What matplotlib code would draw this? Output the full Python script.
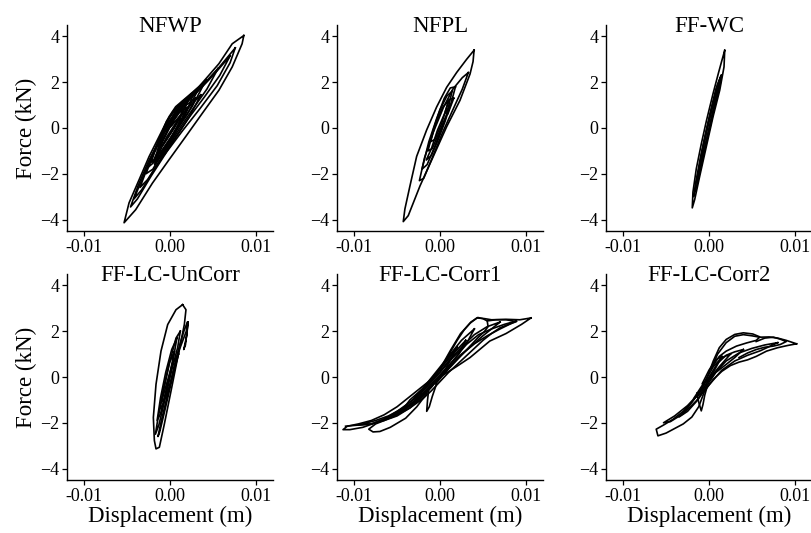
import numpy as np
import matplotlib
matplotlib.use('Agg')
import matplotlib.pyplot as plt
from matplotlib.ticker import FormatStrFormatter

plt.rcParams['font.family'] = ['Liberation Serif', 'DejaVu Serif']

# hysteresis loops: (displacement in mm, force in kN)
nfwp_loops = [
    [(8.6, 4.04), (7.25, 3.68), (5.7, 2.81), (3.37, 1.80), (0.66, 0.93), (-0.12, 0.49), (-1.28, -0.38),
     (-2.44, -1.25), (-3.6, -2.26), (-4.77, -3.27), (-5.35, -4.14), (-4.0, -3.57), (-2.05, -2.41),
     (-0.12, -1.39), (1.82, -0.38), (3.76, 0.64), (5.7, 1.65), (7.25, 2.67), (8.4, 3.68), (8.6, 4.04)],
    [(7.6, 3.5), (6.5, 3.0), (4.5, 2.1), (2.5, 1.35), (0.5, 0.55), (-1.0, -0.35), (-2.5, -1.45), (-3.7, -2.5),
     (-4.6, -3.45), (-3.8, -3.1), (-2.2, -2.1), (-0.4, -1.05), (1.5, -0.1), (3.5, 0.85), (5.5, 1.85),
     (7.0, 2.85), (7.6, 3.5)],
    [(7.0, 3.15), (5.5, 2.5), (3.5, 1.7), (1.5, 0.95), (-0.3, 0.05), (-1.8, -1.0), (-3.0, -2.0), (-4.2, -3.1),
     (-3.3, -2.7), (-1.8, -1.8), (0.0, -0.75), (2.0, 0.35), (4.0, 1.35), (5.8, 2.3), (7.0, 3.15)],
    [(5.6, 2.6), (4.0, 1.95), (2.2, 1.3), (0.5, 0.55), (-1.0, -0.4), (-2.4, -1.5), (-3.5, -2.6), (-2.6, -2.25),
     (-1.0, -1.3), (0.8, -0.2), (2.6, 0.8), (4.3, 1.7), (5.6, 2.6)],
    [(4.2, 2.1), (2.8, 1.6), (1.2, 0.95), (-0.3, 0.2), (-1.6, -0.8), (-2.8, -2.0), (-2.0, -1.8), (-0.6, -0.9),
     (1.0, 0.05), (2.6, 0.95), (4.2, 2.1)],
    [(3.4, 1.75), (2.0, 1.3), (0.6, 0.7), (-0.8, -0.2), (-2.0, -1.2), (-2.5, -1.7), (-1.4, -1.35), (0.0, -0.5),
     (1.6, 0.5), (3.4, 1.75)],
    [(2.8, 1.55), (1.4, 1.15), (0.0, 0.5), (-1.3, -0.5), (-2.2, -1.5), (-1.2, -1.2), (0.3, -0.3), (1.8, 0.6),
     (2.8, 1.55)],
    [(2.2, 1.3), (1.0, 1.0), (-0.4, 0.3), (-1.6, -0.8), (-0.8, -0.75), (0.5, 0.0), (2.2, 1.3)],
    [(3.0, 1.3), (1.5, 0.9), (0.2, 0.2), (-1.0, -0.7), (-1.8, -1.6), (-0.8, -1.1), (0.6, -0.2), (2.0, 0.6),
     (3.0, 1.3)],
    [(1.8, 0.9), (0.6, 0.6), (-0.6, -0.1), (-1.5, -1.0), (-0.4, -0.5), (0.8, 0.2), (1.8, 0.9)],
    [(2.5, 1.5), (1.5, 1.15), (0.3, 0.7), (-0.6, 0.1), (-1.0, -0.3), (0.2, 0.1), (1.5, 0.7), (2.5, 1.5)],
    [(2.0, 0.9), (1.0, 0.65), (0.0, 0.1), (-1.0, -0.6), (-2.0, -1.5), (-1.0, -1.0), (0.2, -0.35), (1.2, 0.3),
     (2.0, 0.9)],
    [(1.2, 0.4), (0.2, 0.2), (-0.8, -0.45), (-1.6, -1.2), (-0.6, -0.95), (0.5, -0.3), (1.2, 0.4)],
    [(3.6, 1.45), (2.4, 1.0), (1.0, 0.4), (-0.4, -0.4), (-1.6, -1.35), (-0.6, -1.15), (0.8, -0.35),
     (2.2, 0.45), (3.6, 1.45)],
]

nfpl_loops = [
    [(3.97, 3.40), (3.1, 3.0), (1.95, 2.43), (0.78, 1.78), (-0.39, 0.92), (-1.56, -0.09), (-2.72, -1.24),
     (-3.5, -2.53), (-4.09, -3.54), (-4.28, -4.09), (-3.7, -3.83), (-2.33, -2.53), (-0.78, -1.24),
     (0.78, 0.06), (2.33, 1.21), (3.5, 2.36), (3.85, 2.9), (3.97, 3.40)],
    [(3.3, 2.42), (2.6, 2.2), (1.5, 1.7), (0.4, 0.9), (-0.8, -0.2), (-1.8, -1.3), (-2.4, -2.3), (-1.9, -2.2),
     (-0.9, -1.3), (0.3, -0.2), (1.5, 0.8), (2.6, 1.7), (3.3, 2.42)],
    [(1.8, 1.8), (1.2, 1.75), (0.5, 1.3), (-0.4, 0.4), (-1.3, -0.6), (-2.1, -1.8), (-1.5, -1.6), (-0.6, -0.8),
     (0.4, 0.2), (1.3, 1.1), (1.8, 1.8)],
    [(1.4, 1.6), (0.8, 1.4), (0.0, 0.8), (-0.8, -0.1), (-1.4, -1.0), (-0.9, -0.9), (-0.1, -0.2), (0.8, 0.6),
     (1.4, 1.6)],
    [(1.0, 1.2), (0.3, 0.9), (-0.5, 0.2), (-1.1, -0.6), (-0.6, -0.5), (0.2, 0.2), (1.0, 1.2)],
    [(1.6, 1.3), (1.1, 1.25), (0.6, 0.7), (0.9, 0.6), (1.6, 1.3)],
    [(1.2, 1.0), (0.5, 0.6), (-0.3, -0.1), (-1.0, -0.9), (-1.6, -1.4), (-1.0, -1.2), (-0.2, -0.5), (0.6, 0.3),
     (1.2, 1.0)],
]

ffwc_loops = [
    [(1.83, 3.39), (1.5, 2.95), (1.1, 2.4), (0.47, 1.5), (-0.31, 0.3), (-0.9, -0.7), (-1.48, -1.78),
     (-1.87, -2.8), (-1.95, -3.49), (-1.67, -3.13), (-1.09, -2.12), (-0.31, -0.81), (0.47, 0.49),
     (1.25, 1.65), (1.75, 2.67), (1.83, 3.39)],
    [(1.44, 2.3), (1.0, 1.9), (0.4, 1.0), (-0.3, -0.1), (-1.0, -1.3), (-1.6, -2.5), (-1.8, -3.0), (-1.4, -2.5),
     (-0.7, -1.3), (0.0, -0.1), (0.7, 1.0), (1.3, 1.9), (1.44, 2.3)],
    [(1.3, 2.2), (0.8, 1.7), (0.1, 0.6), (-0.6, -0.6), (-1.2, -1.8), (-1.5, -2.4), (-1.1, -1.9), (-0.4, -0.7),
     (0.3, 0.5), (1.0, 1.6), (1.3, 2.2)],
    [(1.2, 2.0), (0.6, 1.3), (-0.1, 0.2), (-0.8, -1.0), (-1.2, -1.9), (-0.9, -1.6), (-0.2, -0.4), (0.5, 0.7),
     (1.2, 2.0)],
    [(1.0, 1.6), (0.4, 0.9), (-0.3, -0.2), (-0.9, -1.3), (-0.6, -1.1), (0.1, 0.0), (0.7, 1.0), (1.0, 1.6)],
]

uncorr_loops = [
    [(1.47, 3.16), (0.7, 2.94), (-0.27, 2.29), (-1.05, 1.13), (-1.63, -0.32), (-1.94, -1.77), (-1.82, -2.78),
     (-1.63, -3.14), (-1.24, -3.07), (-0.66, -2.06), (0.12, -0.61), (0.89, 0.84), (1.67, 2.29),
     (1.86, 2.94), (1.47, 3.16)],
    [(2.05, 2.4), (1.7, 2.1), (1.2, 1.5), (0.5, 0.5), (-0.3, -0.8), (-1.0, -1.9), (-1.4, -2.6), (-1.2, -2.4),
     (-0.5, -1.3), (0.3, 0.0), (1.1, 1.2), (1.9, 2.0), (2.05, 2.4)],
    [(2.1, 2.4), (1.95, 1.8), (1.6, 1.2), (1.8, 1.4), (2.1, 2.4)],
    [(1.2, 2.0), (0.7, 1.7), (0.0, 0.7), (-0.7, -0.5), (-1.4, -1.8), (-1.7, -2.5), (-1.3, -2.1), (-0.6, -1.0),
     (0.2, 0.3), (0.9, 1.3), (1.2, 2.0)],
    [(0.8, 1.7), (0.2, 1.2), (-0.5, 0.2), (-1.1, -0.9), (-1.5, -1.9), (-1.1, -1.6), (-0.4, -0.5), (0.3, 0.6),
     (0.8, 1.7)],
    [(0.5, 1.1), (-0.1, 0.6), (-0.7, -0.4), (-1.2, -1.4), (-0.8, -1.2), (-0.2, -0.2), (0.5, 1.1)],
    [(1.0, 1.0), (0.3, 0.6), (-0.4, -0.3), (-1.0, -1.1), (-0.5, -0.9), (0.2, -0.1), (1.0, 1.0)],
]

corr1_loops = [
    [(10.6, 2.58), (9.3, 2.5), (7.7, 2.52), (6.0, 2.5), (5.2, 2.55), (4.3, 2.58), (3.5, 2.35), (2.4, 1.9),
     (1.2, 1.15), (0.3, 0.55), (-0.5, 0.05), (-2.0, -0.4), (-3.5, -0.85), (-5.0, -1.3), (-6.5, -1.65),
     (-8.0, -1.9), (-9.5, -2.05), (-10.8, -2.15), (-11.3, -2.3), (-10.5, -2.3), (-9.0, -2.2), (-7.5, -2.0),
     (-6.0, -1.75), (-4.5, -1.45), (-3.0, -1.05), (-1.5, -0.55), (0.0, 0.0), (1.9, 0.45), (3.5, 0.85),
     (5.8, 1.57), (7.7, 1.9), (9.5, 2.3), (10.6, 2.58)],
    [(0.0, 0.3), (1.0, 0.95), (2.0, 1.6), (2.8, 2.05), (3.6, 2.4), (4.4, 2.6), (5.0, 2.55), (5.5, 2.45),
     (6.5, 2.5), (7.7, 2.5), (8.9, 2.42), (8.0, 2.3), (7.0, 2.15), (6.0, 1.9), (5.0, 1.6), (4.0, 1.25),
     (3.0, 0.9), (2.0, 0.55), (1.0, 0.2), (0.0, -0.2), (-1.0, -0.6), (-2.0, -0.95), (-3.5, -1.35),
     (-5.0, -1.65), (-6.5, -1.9), (-8.0, -2.05), (-9.5, -2.1), (-11.0, -2.15)],
    [(5.5, 2.45), (5.6, 2.2), (5.2, 2.0), (4.5, 1.75), (3.5, 1.35), (2.5, 0.95), (1.5, 0.55), (0.5, 0.15),
     (-0.5, -0.3)],
    [(-1.5, -0.7), (-2.7, -1.3), (-4.0, -1.8), (-5.8, -2.2), (-7.0, -2.38), (-7.8, -2.4), (-8.3, -2.28),
     (-7.5, -2.05), (-6.5, -1.9), (-5.0, -1.7), (-3.5, -1.35), (-2.0, -0.8)],
    [(-1.3, -0.5), (-1.45, -1.0), (-1.55, -1.5), (-1.25, -1.3), (-0.9, -0.85), (-0.4, -0.3)],
    [(8.9, 2.45), (7.5, 2.3), (6.0, 2.1), (4.5, 1.85), (3.0, 1.4), (1.5, 0.85), (0.0, 0.2), (-1.5, -0.4),
     (-3.0, -0.95), (-4.5, -1.4), (-6.0, -1.7), (-7.5, -1.9), (-9.5, -2.1), (-8.0, -2.05), (-6.5, -1.85),
     (-5.0, -1.6), (-3.5, -1.25), (-2.0, -0.8), (-0.5, -0.2), (1.0, 0.4), (2.5, 1.0), (4.0, 1.45),
     (5.5, 1.8), (7.0, 2.1), (8.9, 2.45)],
    [(7.0, 2.4), (5.5, 2.2), (4.0, 1.85), (2.5, 1.3), (1.0, 0.7), (-0.5, 0.0), (-2.0, -0.6), (-3.5, -1.1),
     (-5.0, -1.5), (-6.5, -1.85), (-5.5, -1.75), (-4.0, -1.4), (-2.5, -0.95), (-1.0, -0.4), (0.5, 0.2),
     (2.0, 0.8), (3.5, 1.3), (5.0, 1.8), (7.0, 2.4)],
    [(4.0, 2.1), (2.5, 1.6), (1.0, 0.9), (-0.5, 0.2), (-2.0, -0.5), (-3.5, -1.0), (-4.5, -1.5), (-3.0, -1.1),
     (-1.5, -0.6), (0.0, 0.0), (1.5, 0.7), (3.0, 1.4), (4.0, 2.1)],
    [(3.0, 1.6), (1.5, 1.0), (0.0, 0.35), (-1.5, -0.3), (-3.0, -0.9), (-2.0, -0.7), (-0.5, -0.1), (1.0, 0.5),
     (2.2, 1.0), (3.0, 1.6)],
    [(2.0, 1.3), (0.8, 0.75), (-0.5, 0.1), (-2.0, -0.6), (-3.5, -1.25), (-2.5, -1.05), (-1.0, -0.45),
     (0.5, 0.25), (2.0, 1.3)],
]

corr2_loops = [
    [(10.2, 1.45), (9.0, 1.6), (8.0, 1.7), (7.0, 1.75), (6.0, 1.74), (5.1, 1.88), (4.0, 1.93), (3.0, 1.86),
     (2.0, 1.64), (1.2, 1.28), (0.5, 0.7), (-0.3, -0.1), (-1.0, -0.6), (-2.0, -1.1), (-3.0, -1.5),
     (-4.2, -1.85), (-5.3, -2.1), (-6.15, -2.28), (-5.95, -2.57), (-5.0, -2.45), (-4.0, -2.25),
     (-3.0, -2.05), (-2.0, -1.75), (-1.2, -1.3), (-0.5, -0.6), (0.5, -0.1), (1.5, 0.25), (2.5, 0.5),
     (3.5, 0.65), (4.5, 0.75), (5.5, 0.9), (6.7, 1.13), (8.0, 1.28), (9.2, 1.38), (10.2, 1.45)],
    [(0.3, 0.4), (1.0, 1.0), (2.0, 1.5), (3.0, 1.78), (4.0, 1.85), (5.0, 1.8), (5.9, 1.74), (5.5, 1.6),
     (4.4, 1.49), (3.2, 1.35), (2.0, 1.13), (1.2, 0.9), (0.3, 0.4)],
    [(5.5, 1.55), (6.5, 1.7), (7.5, 1.74), (8.25, 1.66), (9.0, 1.55), (8.3, 1.42), (7.5, 1.35), (6.5, 1.3),
     (5.5, 1.2), (4.5, 1.05), (3.5, 0.85)],
    [(8.0, 1.5), (6.5, 1.4), (5.0, 1.25), (3.5, 1.05), (2.0, 0.7), (0.5, 0.1), (-1.0, -0.65), (-2.5, -1.25),
     (-4.0, -1.7), (-5.3, -2.0), (-4.5, -1.95), (-3.0, -1.6), (-1.5, -1.05), (0.0, -0.35), (1.5, 0.3),
     (3.0, 0.7), (4.5, 0.95), (6.0, 1.15), (8.0, 1.5)],
    [(4.0, 1.2), (3.0, 1.1), (2.0, 0.95), (1.0, 0.6), (0.0, 0.0), (-1.2, -0.7), (-2.5, -1.35), (-3.5, -1.75),
     (-2.5, -1.5), (-1.3, -1.0), (-0.3, -0.4), (0.8, 0.2), (2.0, 0.55), (3.0, 0.85), (4.0, 1.2)],
    [(-1.4, -0.7), (-1.2, -1.1), (-0.9, -1.48), (-0.7, -1.2), (-0.5, -0.8), (-0.2, -0.4)],
    [(1.5, 0.9), (0.8, 0.75), (0.0, 0.3), (-0.8, -0.3), (-0.3, -0.2), (0.5, 0.2), (1.5, 0.9)],
    [(2.5, 1.0), (1.5, 0.85), (0.5, 0.45), (-0.5, -0.2), (-1.8, -0.95), (-1.0, -0.75), (0.0, -0.1),
     (1.2, 0.45), (2.5, 1.0)],
]

titles = ['NFWP', 'NFPL', 'FF-WC', 'FF-LC-UnCorr', 'FF-LC-Corr1', 'FF-LC-Corr2']
panels = [nfwp_loops, nfpl_loops, ffwc_loops, uncorr_loops, corr1_loops, corr2_loops]

fig = plt.figure(figsize=(8.11, 5.33), dpi=100)
lefts = [67/811., 337/811., 606/811.]
bottoms = [1 - 231/533., 1 - 480/533.]
w = 206/811.
h = 206/533.

for i in range(6):
    r, c = divmod(i, 3)
    ax = fig.add_axes([lefts[c], bottoms[r], w, h])
    for loop in panels[i]:
        arr = np.array(loop)
        ax.plot(arr[:, 0]*1e-3, arr[:, 1], color='black', lw=1.2)
    ax.set_xlim(-0.012, 0.012)
    ax.set_ylim(-4.5, 4.5)
    ax.set_xticks([-0.01, 0, 0.01])
    ax.set_yticks([-4, -2, 0, 2, 4])
    ax.xaxis.set_major_formatter(FormatStrFormatter('%.2f'))
    for s in ['top', 'right']:
        ax.spines[s].set_visible(False)
    for s in ['left', 'bottom']:
        ax.spines[s].set_linewidth(1.0)
    ax.tick_params(direction='out', length=3.5, width=0.9, labelsize=13, pad=2)
    # titles sit slightly below the top of the y spine in the original
    ax.set_title(titles[i], fontsize=16.5, y=1.0, pad=-5)
    if c == 0:
        ax.set_ylabel('Force (kN)', fontsize=16.5, labelpad=2)
    if r == 1:
        ax.set_xlabel('Displacement (m)', fontsize=16.5, labelpad=1)

fig.savefig('out.png', dpi=100)
